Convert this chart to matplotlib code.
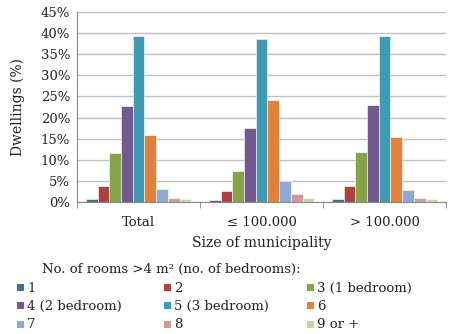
import numpy as np
import matplotlib.pyplot as plt
from matplotlib.patches import Rectangle

plt.rcParams['font.family'] = ['DejaVu Serif']

categories = ['Total', '≤ 100.000', '> 100.000']
series = ['1', '2', '3 (1 bedroom)', '4 (2 bedroom)', '5 (3 bedroom)',
          '6', '7', '8', '9 or +']
colors = ['#3F6CA6', '#A94442', '#85A44A', '#71588F', '#3F9AB2',
          '#E0823C', '#8FA9D6', '#D99694', '#C3D69B']

# percent of dwellings, one row per series, columns = categories
values = [
    [0.8, 0.5, 0.8],
    [3.7, 2.5, 3.8],
    [11.7, 7.4, 11.8],
    [22.7, 17.6, 23.0],
    [39.3, 38.7, 39.3],
    [15.8, 24.2, 15.4],
    [3.0, 5.0, 2.9],
    [1.0, 1.8, 0.9],
    [0.7, 1.0, 0.7],
]

W, H = 450, 334
fig = plt.figure(figsize=(W / 100, H / 100), dpi=100)
ax = fig.add_axes([77 / W, 1 - 202 / H, 369 / W, 190 / H])

n = len(series)
w = 1 / (n + 1.5)
x = np.arange(len(categories))
for i, (name, vals) in enumerate(zip(series, values)):
    ax.bar(x + (i - (n - 1) / 2) * w, vals, width=w, color=colors[i],
           edgecolor='white', linewidth=0.4, label=name, zorder=3)

ax.set_xlim(-0.5, len(categories) - 0.5)
ax.set_ylim(0, 45)
ax.set_yticks(range(0, 46, 5))
ax.set_yticklabels([f'{v}%' for v in range(0, 46, 5)])
ax.yaxis.grid(True, color='#c0c0c0', linewidth=1, zorder=0)
ax.tick_params(axis='y', length=0, labelsize=9.5, pad=5, colors='#222222')
ax.set_xticks(x)
ax.set_xticklabels(categories)
ax.set_xticks([-0.5, 0.5, 1.5, 2.5], minor=True)
ax.tick_params(axis='x', which='major', length=0, labelsize=9.5, pad=10, colors='#222222')
ax.tick_params(axis='x', which='minor', length=4, color='#888888', direction='out')
for s in ['top', 'right']:
    ax.spines[s].set_visible(False)
for s in ['left', 'bottom']:
    ax.spines[s].set_color('#888888')
ax.set_ylabel('Dwellings (%)', fontsize=10, color='#222222', labelpad=11)
ax.set_xlabel('Size of municipality', fontsize=10, color='#222222', labelpad=5)

fig.text(42 / W, 1 - 269 / H, 'No. of rooms >4 m² (no. of bedrooms):',
         fontsize=9.5, va='center', color='#222222')

# legend laid out row by row, three columns
col_x = [20, 167, 310]
row_y = [288, 306, 325]
for i, name in enumerate(series):
    r, c = divmod(i, 3)
    fig.patches.append(Rectangle(((col_x[c] - 3) / W, 1 - (row_y[r] + 3) / H),
                                 7 / W, 7 / H, transform=fig.transFigure,
                                 facecolor=colors[i], edgecolor='none'))
    fig.text((col_x[c] + 7) / W, 1 - row_y[r] / H, name, fontsize=9.5,
             va='center', color='#222222')

fig.savefig('out.png', dpi=100)
